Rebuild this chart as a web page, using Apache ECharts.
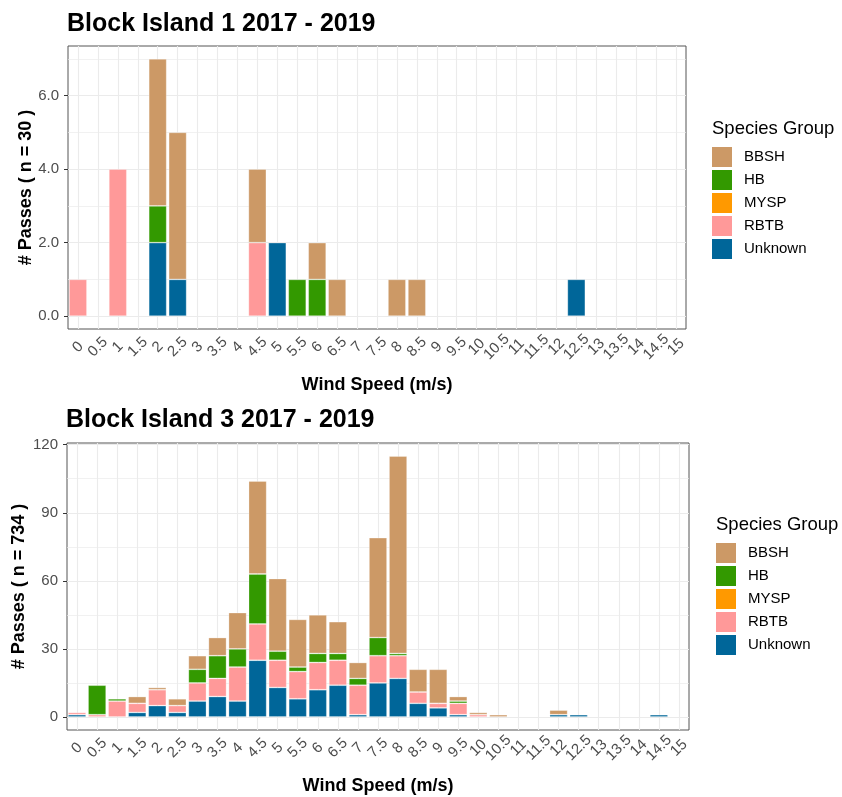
<!DOCTYPE html>
<html>
<head>
<meta charset="utf-8">
<script src="https://cdn.jsdelivr.net/npm/echarts@6/dist/echarts.min.js"></script>
<style>
  html, body { margin: 0; padding: 0; background: #fff; }
  #main { width: 842px; height: 797px; }
</style>
</head>
<body>
<div id="main"></div>
<script>
// wind speed bins (m/s)
var windSpeeds = ['0','0.5','1','1.5','2','2.5','3','3.5','4','4.5','5','5.5','6','6.5','7','7.5',
  '8','8.5','9','9.5','10','10.5','11','11.5','12','12.5','13','13.5','14','14.5','15'];

var groups = ['BBSH', 'HB', 'MYSP', 'RBTB', 'Unknown'];
var groupColors = { BBSH: '#CC9966', HB: '#339900', MYSP: '#FF9900', RBTB: '#FF9999', Unknown: '#006699' };

// Block Island 1 (n = 30)
var bi1BBSH    = [0,0,0,0,4,4,0,0,0,2,0,0,1,1,0,0,1,1,0,0,0,0,0,0,0,0,0,0,0,0,0];
var bi1HB      = [0,0,0,0,1,0,0,0,0,0,0,1,1,0,0,0,0,0,0,0,0,0,0,0,0,0,0,0,0,0,0];
var bi1MYSP    = [0,0,0,0,0,0,0,0,0,0,0,0,0,0,0,0,0,0,0,0,0,0,0,0,0,0,0,0,0,0,0];
var bi1RBTB    = [1,0,4,0,0,0,0,0,0,2,0,0,0,0,0,0,0,0,0,0,0,0,0,0,0,0,0,0,0,0,0];
var bi1Unknown = [0,0,0,0,2,1,0,0,0,0,2,0,0,0,0,0,0,0,0,0,0,0,0,0,0,1,0,0,0,0,0];

// Block Island 3 (n = 734)
var bi3BBSH    = [0,0,0,3,1,3,6,8,16,41,32,21,17,14,7,44,87,10,15,2,1,1,0,0,2,0,0,0,0,0,0];
var bi3HB      = [0,13,1,0,0,0,6,10,8,22,4,2,4,3,3,8,1,0,0,1,0,0,0,0,0,0,0,0,0,0,0];
var bi3MYSP    = [0,0,0,0,0,0,0,0,0,0,0,0,0,0,0,0,0,0,0,0,0,0,0,0,0,0,0,0,0,0,0];
var bi3RBTB    = [1,1,7,4,7,3,8,8,15,16,12,12,12,11,13,12,10,5,2,5,1,0,0,0,0,0,0,0,0,0,0];
var bi3Unknown = [1,0,0,2,5,2,7,9,7,25,13,8,12,14,1,15,17,6,4,1,0,0,0,0,1,1,0,0,0,1,0];

// y ticks
var bi1YTicks = [0, 2, 4, 6];
var bi1YMinor = [1, 3, 5, 7];
var bi3YTicks = [0, 30, 60, 90, 120];
var bi3YMinor = [15, 45, 75, 105];

var FONT = '"Liberation Sans", Arial, sans-serif';

var chart = echarts.init(document.getElementById('main'));

function noZero(arr) {
  return arr.map(function (v) { return v === 0 ? '-' : v; });
}

function barSeries(idx, data) {
  // stack bottom -> top : Unknown, RBTB, MYSP, HB, BBSH
  var order = ['Unknown', 'RBTB', 'MYSP', 'HB', 'BBSH'];
  return order.map(function (g) {
    return {
      name: g,
      type: 'bar',
      stack: 'total' + idx,
      xAxisIndex: idx,
      yAxisIndex: idx,
      barCategoryGap: '10%',
      itemStyle: { color: groupColors[g], borderColor: 'rgba(255,255,255,0.35)', borderWidth: 0.8 },
      data: noZero(data[g]),
      z: 3
    };
  });
}

// background gridlines (ggplot style: through category centres)
function gridSeries(idx, major, minor) {
  var lines = [];
  windSpeeds.forEach(function (c, i) { lines.push({ xAxis: i }); });
  major.forEach(function (v) { lines.push({ yAxis: v }); });
  minor.forEach(function (v) { lines.push({ yAxis: v, lineStyle: { width: 0.7 } }); });
  return {
    type: 'line',
    name: 'grid' + idx,
    xAxisIndex: idx,
    yAxisIndex: idx,
    data: [],
    silent: true,
    z: 1,
    markLine: {
      z: 1,
      silent: true,
      symbol: ['none', 'none'],
      label: { show: false },
      animation: false,
      lineStyle: { color: '#ebebeb', type: 'solid', width: 1.1 },
      data: lines
    }
  };
}

function xAxisCfg(idx) {
  return {
    type: 'category',
    gridIndex: idx,
    data: windSpeeds,
    name: 'Wind Speed (m/s)',
    nameLocation: 'middle',
    nameGap: 47,
    nameMoveOverlap: false,
    nameTextStyle: { fontFamily: FONT, fontSize: 18, fontWeight: 'bold', color: '#000' },
    axisLine: { show: false },
    axisTick: { alignWithLabel: true, interval: 0, length: 4, lineStyle: { color: '#333' } },
    axisLabel: {
      interval: 0, rotate: 45, align: 'center', verticalAlign: 'middle', margin: 18,
      fontFamily: FONT, fontSize: 15, color: '#4d4d4d'
    },
    splitLine: { show: false }
  };
}

function yAxisCfg(idx, min, max, ticks, nameStr, gap, fmt) {
  return {
    type: 'value',
    gridIndex: idx,
    min: min,
    max: max,
    name: nameStr,
    nameLocation: 'middle',
    nameGap: gap,
    nameMoveOverlap: false,
    nameTextStyle: { fontFamily: FONT, fontSize: 18, fontWeight: 'bold', color: '#000' },
    axisLine: { show: false },
    axisTick: { show: true, customValues: ticks, length: 4, lineStyle: { color: '#333' } },
    axisLabel: { customValues: ticks, formatter: fmt, fontFamily: FONT, fontSize: 15, color: '#4d4d4d', margin: 9 },
    splitLine: { show: false }
  };
}

function legendCfg(top, left) {
  return {
    data: groups,
    orient: 'vertical',
    left: left,
    top: top,
    padding: 0,
    itemWidth: 20,
    itemHeight: 20,
    itemGap: 3,
    icon: 'rect',
    selectedMode: false,
    itemStyle: { borderWidth: 0 },
    textStyle: { fontFamily: FONT, fontSize: 15, color: '#000', padding: [0, 0, 0, 7] }
  };
}

var option = {
  animation: false,
  backgroundColor: '#fff',
  title: [
    { text: 'Block Island 1 2017 - 2019', left: 67, top: 12, padding: 0,
      textStyle: { fontFamily: FONT, fontSize: 25, fontWeight: 'bold', color: '#000' } },
    { text: 'Block Island 3 2017 - 2019', left: 66, top: 408, padding: 0,
      textStyle: { fontFamily: FONT, fontSize: 25, fontWeight: 'bold', color: '#000' } },
    { text: 'Species Group', left: 712, top: 119, padding: 0,
      textStyle: { fontFamily: FONT, fontSize: 18.5, fontWeight: 'normal', color: '#000' } },
    { text: 'Species Group', left: 716, top: 515, padding: 0,
      textStyle: { fontFamily: FONT, fontSize: 18.5, fontWeight: 'normal', color: '#000' } }
  ],
  legend: [legendCfg(147, 712), legendCfg(543, 716)],
  grid: [
    { left: 68, right: 156, top: 46, bottom: 468, outerBoundsMode: 'none', containLabel: false,
      show: true, backgroundColor: '#fff', borderColor: '#555', borderWidth: 1 },
    { left: 67, right: 153, top: 443, bottom: 67, outerBoundsMode: 'none', containLabel: false,
      show: true, backgroundColor: '#fff', borderColor: '#555', borderWidth: 1 }
  ],
  xAxis: [xAxisCfg(0), xAxisCfg(1)],
  yAxis: [
    yAxisCfg(0, -0.35, 7.35, bi1YTicks, '# Passes ( n = 30 )', 33, function (v) { return v.toFixed(1); }),
    yAxisCfg(1, -5.75, 120.75, bi3YTicks, '# Passes ( n = 734 )', 39, function (v) { return String(v); })
  ],
  series: [].concat(
    gridSeries(0, bi1YTicks, bi1YMinor),
    gridSeries(1, bi3YTicks, bi3YMinor),
    barSeries(0, { BBSH: bi1BBSH, HB: bi1HB, MYSP: bi1MYSP, RBTB: bi1RBTB, Unknown: bi1Unknown }),
    barSeries(1, { BBSH: bi3BBSH, HB: bi3HB, MYSP: bi3MYSP, RBTB: bi3RBTB, Unknown: bi3Unknown })
  )
};

chart.setOption(option);
</script>
</body>
</html>
